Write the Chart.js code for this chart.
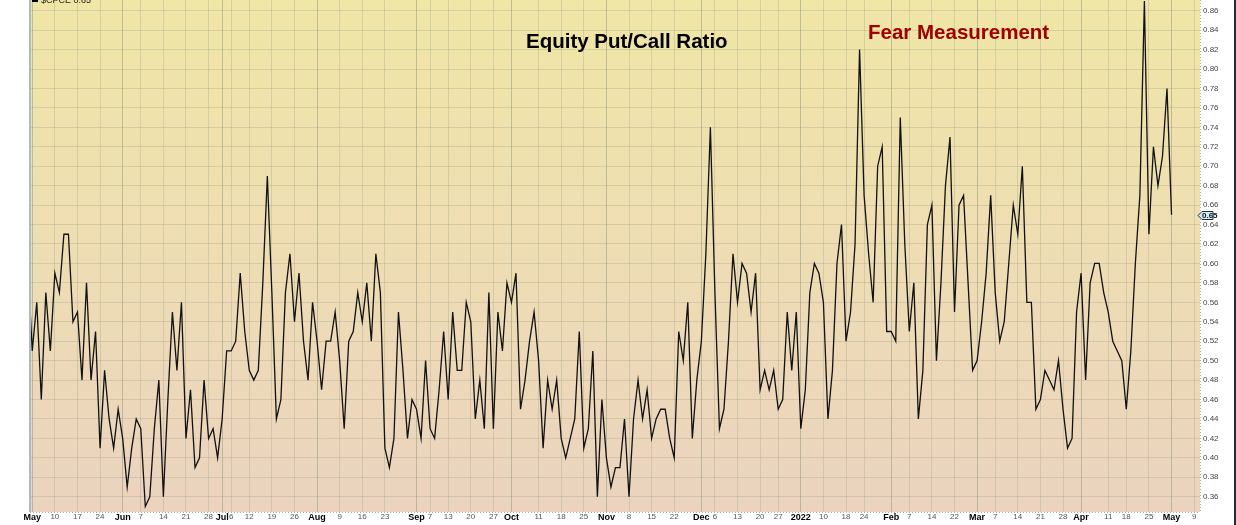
<!DOCTYPE html>
<html>
<head>
<meta charset="utf-8">
<script src="https://cdn.jsdelivr.net/npm/chart.js@4.4.1/dist/chart.umd.min.js"></script>
<style>
  html, body { margin: 0; padding: 0; background: #fff; }
  #wrap { width: 1236px; height: 525px; position: relative; }
</style>
</head>
<body>
<div id="wrap"><canvas id="cpceChart" width="1236" height="525"></canvas></div>
<script>
// trading-day index of the first value (Apr 30 2021, just left of the plot)
const firstIndex = -1;

// $CPCE daily closes, Apr 30 2021 .. May 2 2022
const cpce = [
  0.60,
  0.51, 0.56, 0.46, 0.57, 0.51, 0.59, 0.57, 0.63, 0.63, 0.54,
  0.55, 0.48, 0.58, 0.48, 0.53, 0.41, 0.49, 0.44, 0.41, 0.45,
  0.42, 0.37, 0.41, 0.44, 0.43, 0.35, 0.36, 0.43, 0.48, 0.36,
  0.46, 0.55, 0.49, 0.56, 0.42, 0.47, 0.39, 0.40, 0.48, 0.42,
  0.43, 0.40, 0.44, 0.51, 0.51, 0.52, 0.59, 0.53, 0.49, 0.48,
  0.49, 0.58, 0.69, 0.57, 0.44, 0.46, 0.57, 0.61, 0.54, 0.59,
  0.52, 0.48, 0.56, 0.52, 0.47, 0.52, 0.52, 0.55, 0.50, 0.43,
  0.52, 0.53, 0.57, 0.54, 0.58, 0.52, 0.61, 0.57, 0.41, 0.39,
  0.42, 0.55, 0.49, 0.42, 0.46, 0.45, 0.42, 0.50, 0.43, 0.42,
  0.47, 0.53, 0.46, 0.55, 0.49, 0.49, 0.56, 0.54, 0.44, 0.48,
  0.43, 0.57, 0.43, 0.55, 0.51, 0.58, 0.56, 0.59, 0.45, 0.48,
  0.52, 0.55, 0.50, 0.41, 0.48, 0.45, 0.48, 0.42, 0.40, 0.42,
  0.44, 0.53, 0.41, 0.43, 0.51, 0.36, 0.46, 0.40, 0.37, 0.39,
  0.39, 0.44, 0.36, 0.44, 0.48, 0.44, 0.47, 0.42, 0.44, 0.45,
  0.45, 0.42, 0.40, 0.53, 0.50, 0.56, 0.42, 0.48, 0.52, 0.61,
  0.74, 0.57, 0.43, 0.45, 0.52, 0.61, 0.56, 0.60, 0.59, 0.55,
  0.59, 0.47, 0.49, 0.47, 0.49, 0.45, 0.46, 0.55, 0.49, 0.55,
  0.43, 0.47, 0.57, 0.60, 0.59, 0.56, 0.44, 0.49, 0.60, 0.64,
  0.52, 0.55, 0.62, 0.82, 0.67, 0.61, 0.56, 0.70, 0.72, 0.53,
  0.53, 0.52, 0.75, 0.62, 0.53, 0.58, 0.44, 0.49, 0.64, 0.66,
  0.50, 0.58, 0.68, 0.73, 0.55, 0.66, 0.67, 0.58, 0.49, 0.50,
  0.54, 0.59, 0.67, 0.57, 0.52, 0.54, 0.60, 0.66, 0.63, 0.70,
  0.56, 0.56, 0.45, 0.46, 0.49, 0.48, 0.47, 0.50, 0.45, 0.41,
  0.42, 0.55, 0.59, 0.48, 0.58, 0.60, 0.60, 0.57, 0.55, 0.52,
  0.51, 0.50, 0.45, 0.51, 0.60, 0.67, 0.87, 0.63, 0.72, 0.68,
  0.71, 0.78, 0.65
];

// x axis: trading-day index of each tick and its label
const tickIdx = [0, 5, 10, 15, 20, 24, 29, 34, 39, 42, 44, 48, 53, 58, 63, 68, 73, 78,
  85, 88, 92, 97, 102, 106, 112, 117, 122, 127, 132, 137, 142, 148, 151, 156, 161, 165,
  170, 175, 180, 184, 190, 194, 199, 204, 209, 213, 218, 223, 228, 232, 238, 242, 247, 252, 257];
const tickText = ['May', '10', '17', '24', 'Jun', '7', '14', '21', '28', 'Jul', '6', '12', '19', '26',
  'Aug', '9', '16', '23', 'Sep', '7', '13', '20', '27', 'Oct', '11', '18', '25', 'Nov', '8', '15', '22',
  'Dec', '6', '13', '20', '27', '2022', '10', '18', '24', 'Feb', '7', '14', '22', 'Mar', '7', '14', '21', '28',
  'Apr', '11', '18', '25', 'May', '9'];

// y axis tick labels
const yTicks = [0.36, 0.38, 0.40, 0.42, 0.44, 0.46, 0.48, 0.50, 0.52, 0.54, 0.56, 0.58, 0.60,
  0.62, 0.64, 0.66, 0.68, 0.70, 0.72, 0.74, 0.76, 0.78, 0.80, 0.82, 0.84, 0.86];

const FONT = '"Liberation Sans", Arial, Helvetica, sans-serif';
const isMonth = i => !/^\d{1,2}$/.test(tickText[i]);

// background, borders, titles, legend and last value marker
const decor = {
    id: 'decor',
    beforeDraw(chart) {
        const { ctx, chartArea: a } = chart;
        const g = ctx.createLinearGradient(0, a.top, 0, a.bottom);
        g.addColorStop(0, '#f0e6a6');
        g.addColorStop(0.5, '#eeddb3');
        g.addColorStop(1, '#ebd3bf');
        ctx.save();
        ctx.fillStyle = g;
        ctx.fillRect(a.left, a.top, a.right - a.left, a.bottom - a.top);
        ctx.restore();
    },
    afterDraw(chart) {
        const { ctx, chartArea: a } = chart;
        const y = chart.scales.y;
        ctx.save();
        // left border
        ctx.strokeStyle = '#a9bcc4';
        ctx.lineWidth = 2;
        ctx.beginPath();
        ctx.moveTo(a.left, a.top);
        ctx.lineTo(a.left, a.bottom);
        ctx.stroke();
        // dotted bottom and right axis lines
        ctx.strokeStyle = '#8fb4c4';
        ctx.lineWidth = 1;
        ctx.setLineDash([1, 2]);
        ctx.beginPath();
        ctx.moveTo(a.left, a.bottom + 0.5);
        ctx.lineTo(a.right, a.bottom + 0.5);
        ctx.moveTo(a.right + 0.5, a.top);
        ctx.lineTo(a.right + 0.5, a.bottom);
        ctx.stroke();
        ctx.setLineDash([]);
        // right frame line
        ctx.strokeStyle = '#1d2b3a';
        ctx.lineWidth = 2;
        ctx.beginPath();
        ctx.moveTo(1235, 0);
        ctx.lineTo(1235, 525);
        ctx.stroke();

        // titles
        ctx.textBaseline = 'alphabetic';
        ctx.textAlign = 'left';
        ctx.font = 'bold 20.5px ' + FONT;
        ctx.fillStyle = '#000';
        ctx.fillText('Equity Put/Call Ratio', 526, 47.5);
        ctx.fillStyle = '#a00000';
        ctx.fillText('Fear Measurement', 868, 39);

        // legend (cut at the top edge)
        ctx.fillStyle = '#000';
        ctx.fillRect(32, 0, 6, 2);
        ctx.font = '9px ' + FONT;
        ctx.fillStyle = '#222';
        ctx.fillText('$CPCE 0.65', 41, 3);

        // last value marker on the axis
        const last = cpce[cpce.length - 1];
        const py = Math.round(y.getPixelForValue(last)) + 0.5;
        const x0 = a.right - 2;
        ctx.beginPath();
        ctx.moveTo(x0, py);
        ctx.lineTo(x0 + 4, py - 4);
        ctx.lineTo(x0 + 15, py - 4);
        ctx.lineTo(x0 + 15, py + 4);
        ctx.lineTo(x0 + 4, py + 4);
        ctx.closePath();
        ctx.fillStyle = '#d3ebf0';
        ctx.fill();
        ctx.strokeStyle = '#203040';
        ctx.lineWidth = 1;
        ctx.stroke();
        ctx.font = 'bold 8px ' + FONT;
        ctx.fillStyle = '#0a1a2a';
        ctx.textBaseline = 'middle';
        ctx.fillText(last.toFixed(2), x0 + 4, py + 0.5);
        ctx.restore();
    }
};

new Chart(document.getElementById('cpceChart'), {
    type: 'line',
    data: {
        datasets: [{
            label: '$CPCE',
            data: cpce.map((v, i) => ({ x: firstIndex + i, y: v })),
            borderColor: '#111',
            borderWidth: 1.3,
            pointRadius: 0,
            tension: 0,
            fill: false
        }]
    },
    options: {
        responsive: false,
        animation: false,
        layout: { padding: { left: 30, right: 0, top: 0, bottom: 0 } },
        plugins: {
            legend: { display: false },
            tooltip: { enabled: false }
        },
        scales: {
            x: {
                type: 'linear',
                min: -0.5,
                max: 258.3,
                afterBuildTicks: s => { s.ticks = tickIdx.map(v => ({ value: v })); },
                afterFit: s => { s.height = 13; s.paddingLeft = 0; s.paddingRight = 0; },
                ticks: {
                    autoSkip: false,
                    maxRotation: 0,
                    padding: 0,
                    callback: (v, i) => tickText[i],
                    color: ctx => isMonth(ctx.index) ? '#000' : '#555',
                    font: ctx => ({ family: FONT, size: isMonth(ctx.index) ? 9 : 8, weight: isMonth(ctx.index) ? 'bold' : 'normal' })
                },
                grid: {
                    drawTicks: false,
                    color: ctx => isMonth(ctx.index) ? 'rgba(130,140,115,0.45)' : 'rgba(150,160,135,0.3)',
                    lineWidth: 1
                },
                border: { display: false }
            },
            y: {
                position: 'right',
                min: 0.3443,
                max: 0.871,
                afterBuildTicks: s => { s.ticks = yTicks.map(v => ({ value: v })); },
                afterFit: s => { s.width = 36; s.paddingTop = 0; s.paddingBottom = 0; },
                ticks: {
                    autoSkip: false,
                    padding: 3,
                    color: '#444',
                    font: { family: FONT, size: 8 },
                    callback: v => v.toFixed(2)
                },
                grid: {
                    drawTicks: false,
                    color: 'rgba(150,160,135,0.3)',
                    lineWidth: 1
                },
                border: { display: false }
            }
        }
    },
    plugins: [decor]
});
</script>
</body>
</html>
